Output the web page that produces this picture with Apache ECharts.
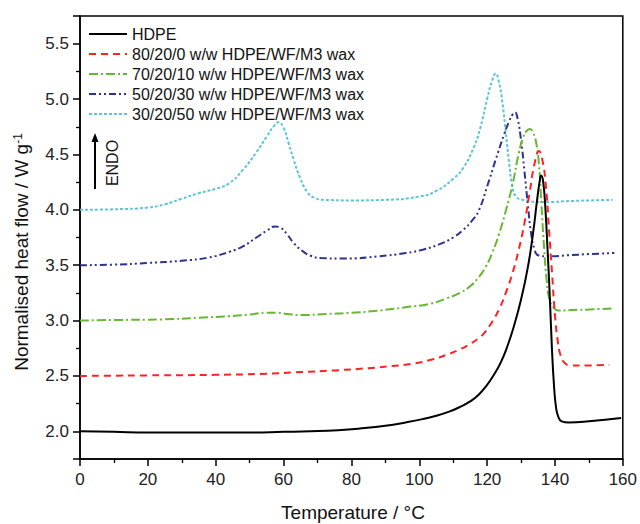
<!DOCTYPE html>
<html>
<head>
<meta charset="utf-8">
<script src="https://cdn.jsdelivr.net/npm/echarts@6/dist/echarts.min.js"></script>
<style>html,body{margin:0;padding:0;background:#fff}#c{width:640px;height:524px}</style>
</head>
<body>
<div id="c"></div>
<script>
const seriesNames = [
  'HDPE',
  '80/20/0 w/w HDPE/WF/M3 wax',
  '70/20/10 w/w HDPE/WF/M3 wax',
  '50/20/30 w/w HDPE/WF/M3 wax',
  '30/20/50 w/w HDPE/WF/M3 wax'
];
const xTicks = [0, 20, 40, 60, 80, 100, 120, 140, 160];
const yTickLabels = ['2.0', '2.5', '3.0', '3.5', '4.0', '4.5', '5.0', '5.5'];

// [temperature (°C), normalised heat flow (W/g)]
const hdpe = [[0,2.00],[10,1.995],[20,1.99],[35,1.99],[50,1.99],[60,1.995],[68,2.00],[76,2.01],[84,2.03],[90,2.05],[96,2.08],[101,2.11],[105,2.14],[109,2.18],[112,2.22],[115,2.27],[117.5,2.33],[120,2.42],[122,2.51],[124,2.62],[126,2.77],[128,2.96],[130,3.19],[132,3.48],[133.5,3.78],[134.7,4.08],[135.5,4.26],[135.9,4.31],[136.5,4.26],[137.2,4.00],[137.8,3.65],[138.5,3.20],[139.1,2.75],[139.7,2.42],[140.3,2.22],[141,2.13],[142,2.09],[144,2.08],[150,2.09],[159.5,2.12]];
const w80 = [[0,2.50],[20,2.505],[40,2.51],[55,2.52],[65,2.535],[75,2.55],[85,2.57],[92,2.59],[98,2.61],[104,2.65],[108,2.69],[112,2.74],[115,2.79],[117.5,2.84],[119.5,2.90],[121.5,2.99],[123.5,3.10],[125.5,3.25],[127.5,3.43],[129.4,3.65],[131,3.88],[132.5,4.15],[134,4.42],[135.3,4.53],[136.3,4.45],[137.3,4.22],[138.3,3.80],[139.2,3.40],[140,3.05],[140.8,2.82],[141.7,2.68],[142.8,2.62],[144.5,2.595],[150,2.595],[156,2.60]];
const w70 = [[0,3.00],[10,3.005],[24,3.01],[35,3.025],[44,3.04],[50,3.055],[55,3.07],[58,3.07],[61,3.06],[65,3.05],[73,3.06],[80,3.07],[88,3.09],[96,3.12],[103,3.15],[108,3.20],[112,3.25],[115,3.31],[117.5,3.39],[119.5,3.48],[121.5,3.61],[123.5,3.78],[125.5,3.99],[127.5,4.23],[129.4,4.52],[130.6,4.65],[131.6,4.71],[132.5,4.73],[133.5,4.70],[134.5,4.60],[135.3,4.40],[136,4.05],[136.7,3.70],[137.5,3.38],[138.3,3.20],[139.5,3.12],[141,3.09],[145,3.095],[150,3.10],[157,3.11]];
const w50 = [[0,3.50],[10,3.505],[20,3.52],[30,3.54],[38,3.57],[44,3.62],[48,3.67],[52,3.75],[55,3.81],[57.5,3.85],[59,3.84],[61,3.78],[63,3.70],[65.5,3.63],[68,3.585],[71,3.565],[78,3.56],[88,3.58],[96,3.61],[101,3.64],[106,3.69],[110,3.75],[113,3.82],[115.5,3.90],[117.5,3.99],[120,4.21],[122.5,4.45],[125,4.68],[126.5,4.80],[127.5,4.86],[128.2,4.88],[129,4.82],[130,4.63],[131,4.35],[132,4.05],[133,3.78],[134,3.64],[135,3.59],[138,3.58],[144,3.59],[150,3.60],[157.5,3.61]];
const w30 = [[0,4.00],[10,4.005],[20,4.02],[25,4.05],[30,4.10],[35,4.15],[40,4.19],[44,4.24],[48,4.36],[52,4.52],[55,4.66],[57,4.75],[58.5,4.79],[60,4.74],[61.5,4.60],[63,4.45],[65,4.28],[67,4.16],[69,4.11],[72,4.09],[80,4.085],[90,4.09],[100,4.12],[105,4.17],[110,4.28],[113,4.38],[116,4.56],[118,4.74],[120,5.00],[121.5,5.17],[122.5,5.23],[123.5,5.15],[124.5,4.97],[125.5,4.70],[126.5,4.42],[127.5,4.20],[128.5,4.12],[130.5,4.09],[137,4.07],[145,4.08],[157,4.09]];

const colors = ['#000000', '#ff2222', '#66b832', '#2e3192', '#5cc6d6'];
const dashes = ['solid', [7,5], [9,3,2,3], [7,3,2,3,2,3], [3,2]];
const allData = [hdpe, w80, w70, w50, w30];
const FONT = '"Liberation Sans", Arial, sans-serif';

const chart = echarts.init(document.getElementById('c'), null, {renderer: 'svg'});
chart.setOption({
  animation: false,
  backgroundColor: '#fff',
  grid: {left: 80, right: 16, top: 16, bottom: 65, show: true, borderColor: '#000', borderWidth: 1.5, backgroundColor: 'transparent'},
  legend: {
    left: 83, top: 19, orient: 'vertical',
    itemWidth: 38, itemHeight: 14, itemGap: 0,
    itemStyle: {opacity: 0},
    textStyle: {fontSize: 16, color: '#111', fontFamily: FONT, lineHeight: 20},
    data: seriesNames
  },
  xAxis: {
    type: 'value', min: xTicks[0], max: xTicks[xTicks.length - 1], interval: 20,
    axisLine: {show: true, lineStyle: {color: '#000', width: 1.5}},
    axisTick: {show: true, inside: false, length: 7, lineStyle: {color: '#000', width: 1.5}},
    minorTick: {show: true, splitNumber: 2, length: 4, lineStyle: {color: '#000', width: 1.3}},
    splitLine: {show: false},
    axisLabel: {fontSize: 17, color: '#222', margin: 12, fontFamily: FONT}
  },
  yAxis: {
    type: 'value', min: 1.75, max: 5.75, splitNumber: 8, minInterval: 0.5, maxInterval: 0.5,
    axisLine: {show: true, lineStyle: {color: '#000', width: 1.5}},
    axisTick: {show: true, inside: false, length: 7, lineStyle: {color: '#000', width: 1.5}},
    minorTick: {show: true, splitNumber: 2, length: 4, lineStyle: {color: '#000', width: 1.3}},
    splitLine: {show: false},
    axisLabel: {
      fontSize: 17, color: '#222', margin: 11, fontFamily: FONT,
      formatter: function (v) {
        const s = v.toFixed(1);
        return yTickLabels.indexOf(s) >= 0 && Math.abs(v * 2 - Math.round(v * 2)) < 1e-6 ? s : '';
      }
    }
  },
  series: allData.map(function (d, i) {
    return {
      name: seriesNames[i], type: 'line', data: d,
      showSymbol: false, symbol: 'none', smooth: 0.5,
      lineStyle: {color: colors[i], width: 2, type: dashes[i]},
      itemStyle: {color: colors[i]},
      z: 10 - i
    };
  }),
  graphic: [
    {type: 'line', shape: {x1: 95, y1: 189, x2: 95, y2: 140}, style: {stroke: '#000', lineWidth: 2}},
    {type: 'polygon', shape: {points: [[95, 133], [91.5, 142], [98.5, 142]]}, style: {fill: '#000'}},
    {type: 'text', x: 112, y: 163, rotation: Math.PI / 2,
      style: {text: 'ENDO', font: '16px ' + FONT, fill: '#111', align: 'center', verticalAlign: 'middle'}},
    {type: 'text', x: 353, y: 512,
      style: {text: 'Temperature / °C', font: '19px ' + FONT, fill: '#111', align: 'center', verticalAlign: 'middle'}},
    {type: 'text', x: 21, y: 252, rotation: Math.PI / 2,
      style: {
        text: 'Normalised heat flow / W g{sup|-1}', font: '19px ' + FONT, fill: '#111',
        align: 'center', verticalAlign: 'middle',
        rich: {sup: {fontSize: 12, fontFamily: FONT, fill: '#111', verticalAlign: 'top', lineHeight: 19}}
      }}
  ]
});
</script>
</body>
</html>
